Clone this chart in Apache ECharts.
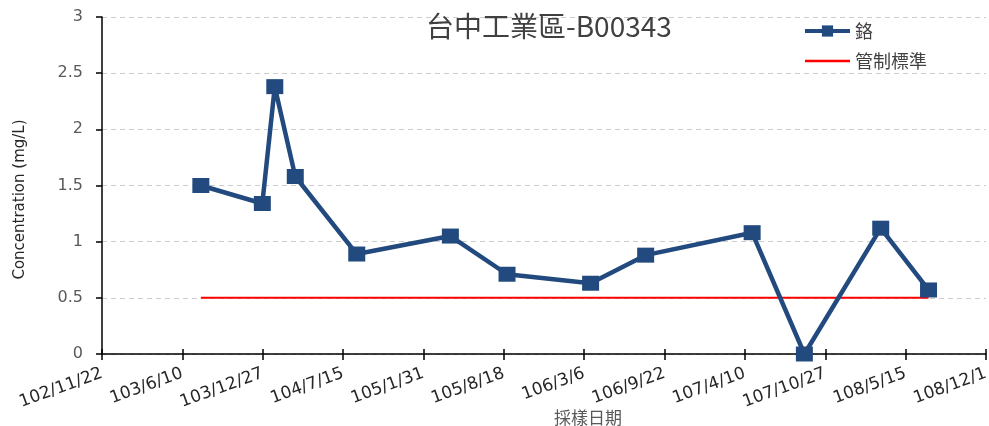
<!DOCTYPE html>
<html>
<head>
<meta charset="utf-8">
<script src="https://cdn.jsdelivr.net/npm/echarts@6/dist/echarts.min.js"></script>
<style>
  html, body { margin: 0; padding: 0; background: #fff; }
  #chart { width: 989px; height: 426px; }
</style>
</head>
<body>
<div id="chart"></div>
<script>
// 民國日期 (ROC)
const sampleDates = ['103/7/26', '103/12/26', '104/1/26', '104/3/18', '104/8/18', '105/4/7', '105/8/26',
                     '106/3/22', '106/8/6', '107/4/28', '107/9/5', '108/3/14', '108/7/11'];
const chromium = [1.5, 1.34, 2.38, 1.58, 0.89, 1.05, 0.71, 0.63, 0.88, 1.08, 0, 1.12, 0.57];
const limitDates = ['103/7/26', '108/7/11'];
const limitValues = [0.5, 0.5];
const xTickLabels = ['102/11/22', '103/6/10', '103/12/27', '104/7/15', '105/1/31', '105/8/18',
                     '106/3/6', '106/9/22', '107/4/10', '107/10/27', '108/5/15', '108/12/1'];
const yTicks = [0, 0.5, 1, 1.5, 2, 2.5, 3];

const DAY = 86400000;
function rocToTime(s) {
    const p = s.split('/').map(Number);
    return Date.UTC(p[0] + 1911, p[1] - 1, p[2]);
}
const origin = rocToTime(xTickLabels[0]);
const toDay = s => Math.round((rocToTime(s) - origin) / DAY);
const tickStep = toDay(xTickLabels[1]);   // 200 days
const xMax = tickStep * (xTickLabels.length - 1);

const font = "'DejaVu Sans', 'Noto Sans CJK TC', sans-serif";
const cjk = "'Noto Sans CJK TC', sans-serif";
const chart = echarts.init(document.getElementById('chart'));
chart.setOption({
    animation: false,
    title: {
        text: '台中工業區-B00343',
        left: 421, top: 7,
        textStyle: { fontFamily: cjk, fontSize: 28, fontWeight: 'normal', color: '#404040' }
    },
    legend: {
        orient: 'vertical',
        left: 798, top: 17,
        itemWidth: 45, itemHeight: 14, itemGap: 12,
        textStyle: { fontFamily: cjk, fontSize: 18, color: '#404040' },
        data: [
            { name: '鉻', lineStyle: { width: 4 } },
            { name: '管制標準', itemStyle: { opacity: 0 }, lineStyle: { width: 2.5 } }
        ]
    },
    grid: { left: 102, right: 3, top: 17, bottom: 72, outerBoundsMode: 'none', containLabel: false },
    xAxis: [{
        type: 'value',
        min: 0, max: xMax, interval: tickStep,
        name: '採樣日期',
        nameLocation: 'middle',
        nameGap: 55,
        nameMoveOverlap: false,
        nameTextStyle: { fontFamily: cjk, fontSize: 17, color: '#595959', padding: [0, 0, 0, 88] },
        axisLine: { lineStyle: { color: '#000', width: 1.5 } },
        axisTick: { length: 6, lineStyle: { color: '#000', width: 1.5 } },
        axisLabel: {
            rotate: 20, margin: 19,
            fontFamily: font, fontSize: 17, color: '#262626',
            formatter: v => xTickLabels[Math.round(v / tickStep)] || ''
        },
        splitLine: { show: false }
    }, {
        type: 'value',
        min: 0, max: xMax, interval: tickStep,
        position: 'bottom',
        axisLine: { show: false },
        axisTick: { inside: true, length: 5, lineStyle: { color: '#000', width: 1.5 } },
        axisLabel: { show: false },
        splitLine: { show: false }
    }],
    yAxis: {
        type: 'value',
        min: yTicks[0], max: yTicks[yTicks.length - 1], interval: 0.5,
        name: 'Concentration (mg/L)',
        nameLocation: 'middle',
        nameGap: 74,
        nameMoveOverlap: false,
        nameTextStyle: { fontFamily: font, fontSize: 15, color: '#262626', padding: [0, 0, 0, -28] },
        axisLine: { show: true, lineStyle: { color: '#000', width: 1.5 } },
        axisTick: { show: true, length: 6, lineStyle: { color: '#000', width: 1.5 } },
        axisLabel: { fontFamily: font, fontSize: 16, color: '#595959', margin: 19 },
        splitLine: { lineStyle: { color: '#cccccc', type: [5, 4] } }
    },
    series: [{
        name: '鉻',
        type: 'line',
        data: sampleDates.map((d, i) => [toDay(d), chromium[i]]),
        symbol: 'rect', symbolSize: [17, 15],
        itemStyle: { color: '#224a7e' },
        lineStyle: { color: '#224a7e', width: 4.5 },
        z: 3
    }, {
        name: '管制標準',
        type: 'line',
        data: limitDates.map((d, i) => [toDay(d), limitValues[i]]),
        symbol: 'none',
        itemStyle: { color: '#ff0000' },
        lineStyle: { color: '#ff0000', width: 2 },
        z: 2
    }]
});
</script>
</body>
</html>
